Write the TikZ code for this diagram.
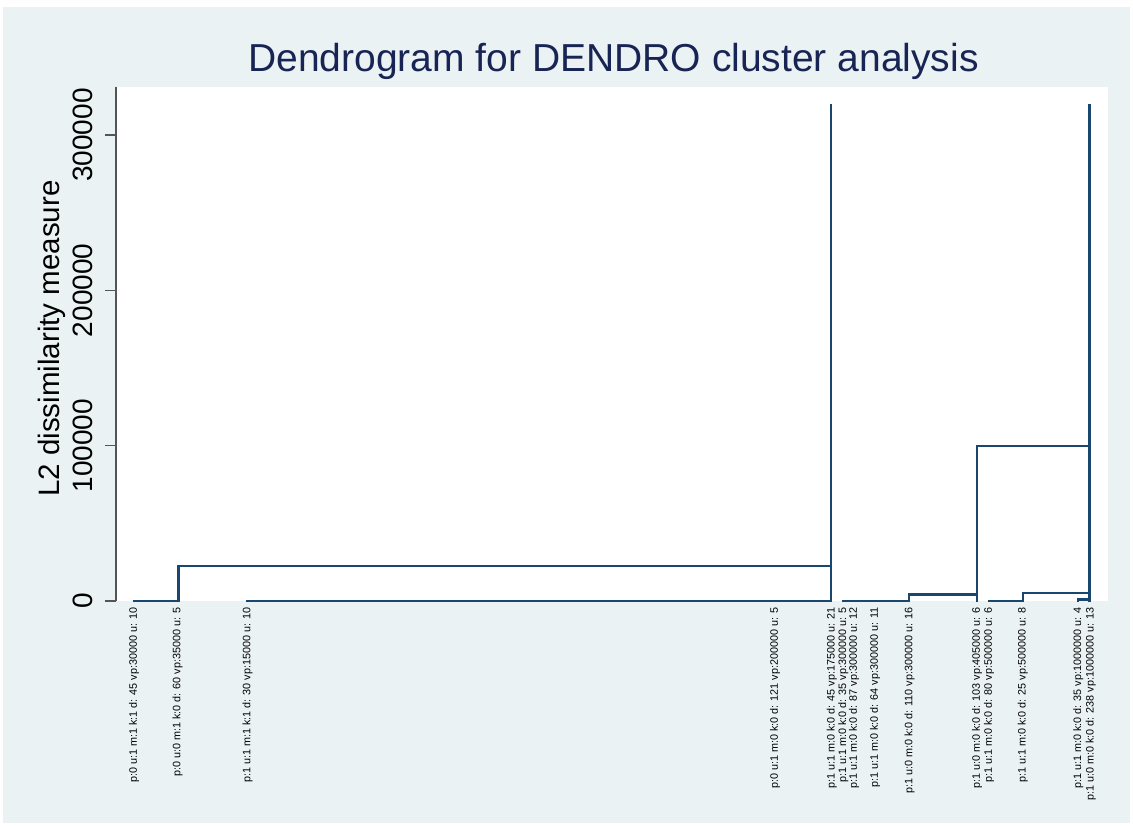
\documentclass[tikz,border=0pt]{standalone}
\usepackage{fontspec}
\setmainfont{Liberation Sans}
\definecolor{graphbg}{RGB}{234,242,243}
\definecolor{dendro}{RGB}{26,71,111}
\definecolor{headnavy}{RGB}{24,36,84}
\definecolor{axisgray}{RGB}{85,85,85}
\tikzset{
  link/.style={draw=dendro, line width=2.1pt, line cap=rect, line join=miter},
  axisline/.style={draw=axisgray, line width=1.3pt},
  ticklabel/.style={rotate=90, anchor=base, inner sep=0pt, font=\fontsize{28}{32}\selectfont},
  leaflabel/.style={rotate=90, anchor=east, inner sep=0pt, font=\fontsize{10.8}{12}\selectfont},
}
\begin{document}
\begin{tikzpicture}[x=1pt, y=-1pt]
\useasboundingbox (0,0) rectangle (1133,826);
% graph region and plot region
\fill[graphbg] (3,7) rectangle (1130,823);
\fill[white] (116,87) rectangle (1108,601);

% title
\node[anchor=base, text=headnavy, inner sep=0pt, font=\fontsize{39}{45}\selectfont] (title) at (613.5,72) {Dendrogram for DENDRO cluster analysis};

% y axis, ticks and labels
\coordinate (ytop) at (116,87);
\coordinate (ybot) at (116,601);
\draw[axisline] (ytop) -- (ybot);
\foreach \v/\yy in {0/601, 100000/445.7, 200000/290.4, 300000/135.1}{
  \coordinate (tk\v) at (116,\yy);
  \draw[axisline] (tk\v) -- ++(-11,0);
  \node[ticklabel] (tl\v) at (92,\yy) {\v};
}
\node[ticklabel, font=\fontsize{29.5}{34}\selectfont] (ytitle) at (59.5,338.5) {L2 dissimilarity measure};

% leaves (on the zero line)
\foreach \n/\xx in {1/134, 2/178.5, 3/247.5, 4/775, 5/831, 6/843, 7/854, 8/875,
                    9/909.3, 10/977.3, 11/989.3, 12/1022.7, 13/1078.3, 14/1089.5}{
  \coordinate (L\n) at (\xx,601);
}

% merge points
\coordinate (A) at (178.5,566);    % leaves 1-2
\coordinate (B) at (831,566);
\coordinate (topL) at (831,105);
\coordinate (C) at (909.3,594.5);  % leaves 6-9
\coordinate (D) at (977.3,594.5);
\coordinate (E) at (977.3,446);
\coordinate (F) at (1022.7,592.7); % leaves 11-12
\coordinate (G) at (1089.5,592.7);
\coordinate (H) at (1078.3,599.5); % leaves 13-14
\coordinate (I) at (1089.5,599.5);
\coordinate (J) at (1089.5,446);
\coordinate (topR) at (1089.5,105);

% left cluster
\draw[link] (L1) -- (L2) -- (A) -- (B);
\draw[link] (L3) -- (L4) -- (L5) -- (topL);
% right cluster
\draw[link] (L6) -- (L7) -- (L8) -- (L9) -- (C) -- (D);
\draw[link] (L10) -- (E) -- (J);
\draw[link] (L11) -- (L12) -- (F) -- (G);
\draw[link] (L13) -- (H) -- (I);
\draw[link] (L14) -- (topR);

% leaf labels
\node[leaflabel] (n1)  at (134,607.5)    {p:0 u:1 m:1 k:1 d: 45 vp:30000 u: 10};
\node[leaflabel] (n2)  at (177.5,607.5)  {p:0 u:0 m:1 k:0 d: 60 vp:35000 u: 5};
\node[leaflabel] (n3)  at (247.5,607.5)  {p:1 u:1 m:1 k:1 d: 30 vp:15000 u: 10};
\node[leaflabel] (n4)  at (775,607.5)    {p:0 u:1 m:0 k:0 d: 121 vp:200000 u: 5};
\node[leaflabel] (n5)  at (831.7,607.5)  {p:1 u:1 m:0 k:0 d: 45 vp:175000 u: 21};
\node[leaflabel] (n6)  at (843.3,607.5)  {p:1 u:1 m:0 k:0 d: 35 vp:300000 u: 5};
\node[leaflabel] (n7)  at (854,607.5)    {p:1 u:1 m:0 k:0 d: 87 vp:300000 u: 12};
\node[leaflabel] (n8)  at (875,607.5)    {p:1 u:1 m:0 k:0 d: 64 vp:300000 u: 11};
\node[leaflabel] (n9)  at (909.5,607.5)  {p:1 u:0 m:0 k:0 d: 110 vp:300000 u: 16};
\node[leaflabel] (n10) at (977,607.5)    {p:1 u:0 m:0 k:0 d: 103 vp:405000 u: 6};
\node[leaflabel] (n11) at (989,607.5)    {p:1 u:1 m:0 k:0 d: 80 vp:500000 u: 6};
\node[leaflabel] (n12) at (1022.7,607.5) {p:1 u:1 m:0 k:0 d: 25 vp:500000 u: 8};
\node[leaflabel] (n13) at (1078.3,607.5) {p:1 u:1 m:0 k:0 d: 35 vp:1000000 u: 4};
\node[leaflabel] (n14) at (1090.7,607.5) {p:1 u:0 m:0 k:0 d: 238 vp:1000000 u: 13};
\end{tikzpicture}
\end{document}
